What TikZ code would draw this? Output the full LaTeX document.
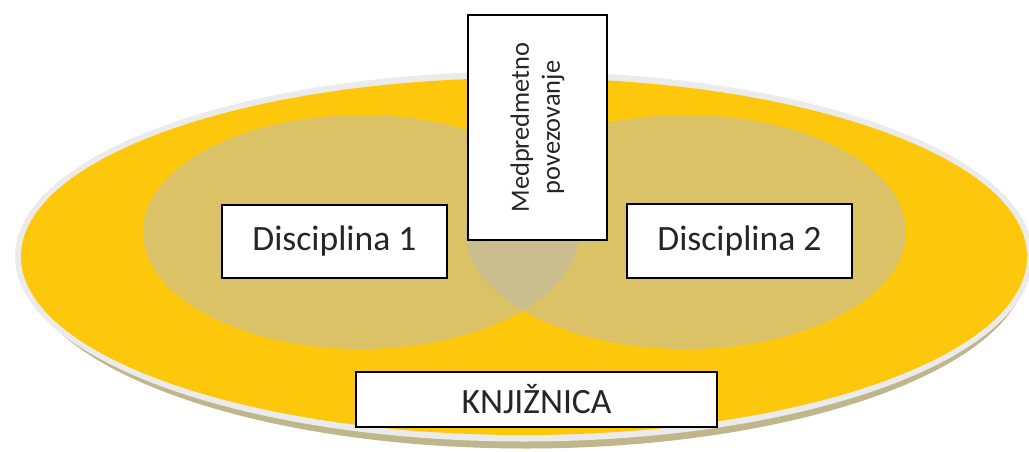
\documentclass[tikz,border=0pt]{standalone}
\usepackage{fontspec}
\setmainfont{Carlito}
\usetikzlibrary{positioning}
\definecolor{libyellow}{HTML}{FDC80C}
\definecolor{discfill}{HTML}{DCC266}
\definecolor{overlap}{HTML}{CABD8E}
\definecolor{rim}{HTML}{EBEBEB}
\definecolor{rimshade}{HTML}{BFB68C}
\tikzset{label box/.style={draw=black,line width=1pt,fill=white,inner sep=0pt,text=black!85}}
\tikzset{big text/.style={font=\fontsize{17.8}{20}\selectfont}}

\begin{document}
\begin{tikzpicture}[x=0.5pt,y=-0.5pt]
  \useasboundingbox (0,0) rectangle (1029,451);
  % library plate with its rim
  \fill[rimshade] (526,263.5) ellipse (502 and 185);
  \fill[rim] (524,256.5) ellipse (509 and 185);
  \fill[libyellow] (524,256.5) ellipse (503 and 178.5);
  % the two disciplines
  \fill[discfill] (361,232) ellipse (218 and 117);
  \fill[discfill] (686,232) ellipse (220 and 117);
  \begin{scope}
    \clip (361,232) ellipse (218 and 117);
    \fill[overlap] (686,232) ellipse (220 and 117);
  \end{scope}

  \node[label box,big text,minimum width=112.5pt,minimum height=36.5pt] (disc1) at (334.5,241.5) {Disciplina 1};
  \node[label box,big text,minimum width=112.5pt,minimum height=37pt] (disc2) at (739.5,241) {Disciplina 2};
  \node[label box,rotate=90,align=center,font=\fontsize{13.2}{15.5}\selectfont,
        minimum width=112.5pt,minimum height=69.5pt] (link) at (537.5,127.5) {Medpredmetno\\povezovanje};
  \node[label box,big text,minimum width=180.5pt,minimum height=27.5pt] (lib) at (536.5,399.5) {KNJIŽNICA};
\end{tikzpicture}
\end{document}
